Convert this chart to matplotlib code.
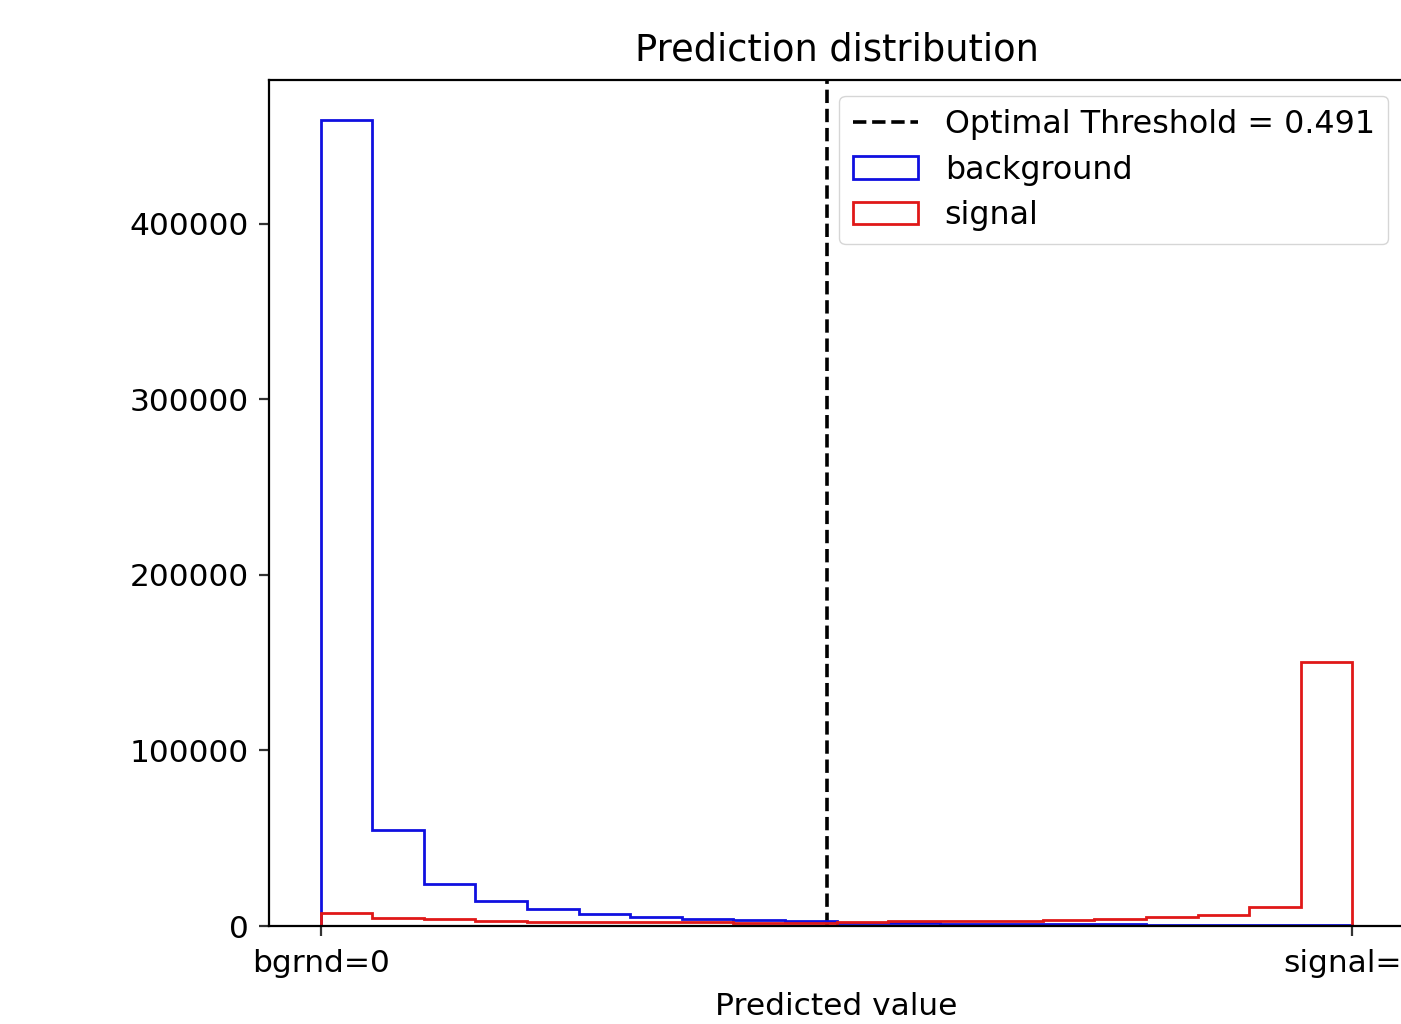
import numpy as np
import matplotlib
matplotlib.use("Agg")
import matplotlib.pyplot as plt

bin_edges = np.linspace(0.0, 1.0, 21)
background_counts = [459000, 54800, 23800, 14500, 9700, 6600, 5100, 4200, 3400, 2900,
                     1800, 1500, 1300, 1100, 1000, 900, 800, 700, 700, 800]
signal_counts = [7200, 4800, 3800, 3000, 2500, 2100, 2000, 2000, 1900, 1900,
                 2500, 2700, 2800, 3000, 3400, 4000, 4900, 6300, 10600, 150600]
threshold = 0.491
xtick_vals = [0, 1]
xtick_labels = ["bgrnd=0", "signal=1"]

plt.rcParams['font.family'] = ['DejaVu Sans']
fig = plt.figure(figsize=(14.01, 10.24), dpi=100)
ax = fig.add_axes([269/1401, 1 - 926/1024, (1404 - 269)/1401, (926 - 80)/1024])

centers = (bin_edges[:-1] + bin_edges[1:]) / 2
ax.axvline(threshold, color='black', linestyle='--', linewidth=2.6,
           label=f"Optimal Threshold = {threshold}")
ax.hist(centers, bins=bin_edges, weights=background_counts, histtype='step',
        color='#1010e0', linewidth=2.0, label='background')
ax.hist(centers, bins=bin_edges, weights=signal_counts, histtype='step',
        color='#e01818', linewidth=2.0, label='signal')

ax.set_xticks(xtick_vals)
ax.set_xticklabels(xtick_labels)
ax.set_yticks([0, 100000, 200000, 300000, 400000])
ax.tick_params(labelsize=22.5, length=7.5, width=1.6, color='#333333')
ax.tick_params(axis='x', pad=9)
ax.tick_params(axis='y', pad=7)
for s in ax.spines.values():
    s.set_linewidth(1.6)
ax.set_xlabel("Predicted value", fontsize=22.5, labelpad=10)
ax.set_title("Prediction distribution", fontsize=26.5, pad=14)
leg = ax.legend(loc='upper right', fontsize=22.9, handlelength=2.05,
                borderpad=0.42, labelspacing=0.45, handletextpad=0.85)

fig.savefig("out.png", dpi=100)
